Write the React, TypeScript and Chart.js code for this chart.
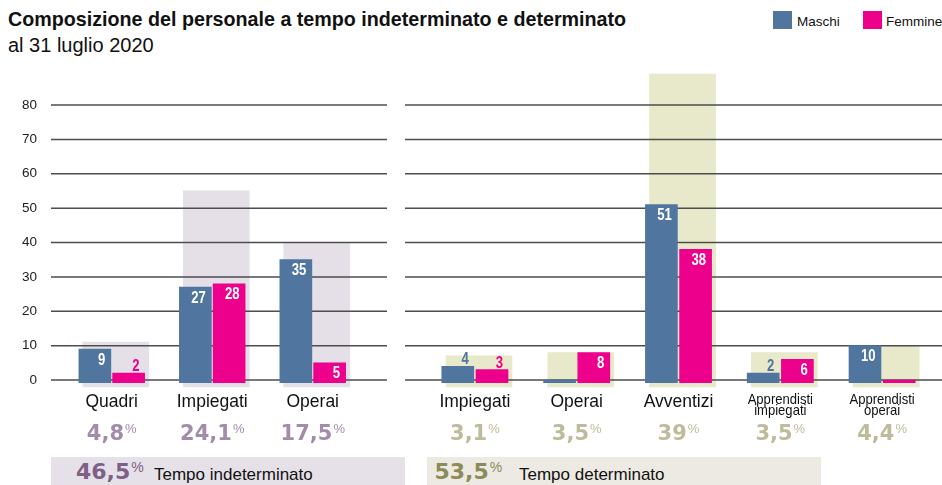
import React, { useEffect, useRef } from 'react';
import { Chart, registerables } from 'chart.js';

Chart.register(...registerables);

// ---------- data ----------
const LEFT_CATEGORIES: string[][] = [['Quadri'], ['Impiegati'], ['Operai']];
const LEFT_MASCHI = [9, 27, 35];
const LEFT_FEMMINE = [2, 28, 5];
const LEFT_PCT = [4.8, 24.1, 17.5];

const RIGHT_CATEGORIES: string[][] = [
  ['Impiegati'],
  ['Operai'],
  ['Avventizi'],
  ['Apprendisti', 'impiegati'],
  ['Apprendisti', 'operai'],
];
const RIGHT_MASCHI = [4, 0, 51, 2, 10];
const RIGHT_FEMMINE = [3, 8, 38, 6, 0];
const RIGHT_PCT = [3.1, 3.5, 39, 3.5, 4.4];

const Y_TICKS = [0, 10, 20, 30, 40, 50, 60, 70, 80];
const TOTAL_INDETERMINATO = 46.5;
const TOTAL_DETERMINATO = 53.5;
const SERIES_NAMES = ['Maschi', 'Femmine'];

// ---------- styles ----------
const MASCHI_COLOR = '#50759F';
const FEMMINE_COLOR = '#EC008C';
const BAR_BASE = -0.8;
const BG_BASE = -2;
const BG_SHIFT = 0.04;
const PAIR_OFFSET = 0.168;
const SANS = '"Liberation Sans", Arial, sans-serif';
const HEAVY = '"DejaVu Sans", sans-serif';

const fmt = (v: number) => String(v).replace('.', ',');

function narrowText(ctx: CanvasRenderingContext2D, text: string, x: number, y: number, align: CanvasTextAlign, sx: number) {
  ctx.save();
  ctx.translate(x, y);
  ctx.scale(sx, 1);
  ctx.textAlign = align;
  ctx.fillText(text, 0, 0);
  ctx.restore();
}

type PanelCfg = {
  labels: string[][];
  maschi: number[];
  femmine: number[];
  pct: number[];
  gridFrom: number;
  gridTo: number;
  yTicks: boolean;
  bgColor: string;
  pctColor: string;
  padding: { left: number; right: number; top: number; bottom: number };
};

function buildChart(canvas: HTMLCanvasElement, cfg: PanelCfg) {
  const n = cfg.labels.length;
  const sums = cfg.maschi.map((m, i) => m + cfg.femmine[i]);
  const series = [cfg.maschi, cfg.femmine];
  const colors = [MASCHI_COLOR, FEMMINE_COLOR];

  const plugin = {
    id: 'panelDecor',
    afterDatasetDraw(chart: any, args: any) {
      if (args.index !== 2) return;
      const ctx: CanvasRenderingContext2D = chart.ctx;
      const y = chart.scales.y;
      ctx.save();
      ctx.strokeStyle = '#4d4d4d';
      ctx.lineWidth = 1.5;
      for (const t of Y_TICKS) {
        const py = y.getPixelForValue(t);
        ctx.beginPath();
        ctx.moveTo(cfg.gridFrom, py);
        ctx.lineTo(cfg.gridTo, py);
        ctx.stroke();
      }
      ctx.restore();
    },
    afterDatasetsDraw(chart: any) {
      const ctx: CanvasRenderingContext2D = chart.ctx;
      ctx.save();
      ctx.font = `bold 16px ${SANS}`;
      ctx.textBaseline = 'alphabetic';
      for (let d = 0; d < 2; d++) {
        const meta = chart.getDatasetMeta(d);
        series[d].forEach((v, i) => {
          if (!v) return;
          const bar = meta.data[i];
          const right = bar.x + bar.width / 2;
          if (v >= 5) {
            ctx.fillStyle = '#ffffff';
            narrowText(ctx, String(v), right - 5.5, bar.y + 15.5, 'right', 0.82);
          } else {
            ctx.fillStyle = colors[d];
            narrowText(ctx, String(v), right - 5, bar.y - 2, 'right', 0.82);
          }
        });
      }
      ctx.restore();
    },
    afterDraw(chart: any) {
      const ctx: CanvasRenderingContext2D = chart.ctx;
      const xs = chart.scales.x;
      const y = chart.scales.y;
      ctx.save();
      ctx.textBaseline = 'alphabetic';
      if (cfg.yTicks) {
        ctx.fillStyle = '#222';
        ctx.font = `13.5px ${SANS}`;
        ctx.textAlign = 'right';
        ctx.textBaseline = 'middle';
        for (const t of Y_TICKS) ctx.fillText(String(t), 37, y.getPixelForValue(t));
        ctx.textBaseline = 'alphabetic';
      }
      cfg.labels.forEach((lines, i) => {
        const cx = xs.getPixelForValue(i);
        ctx.fillStyle = '#111';
        if (lines.length === 1) {
          ctx.font = `17.5px ${SANS}`;
          ctx.textAlign = 'center';
          ctx.fillText(lines[0], cx, 407);
        } else {
          ctx.font = `15px ${SANS}`;
          narrowText(ctx, lines[0], cx, 404, 'center', 0.87);
          narrowText(ctx, lines[1], cx, 414.5, 'center', 0.87);
        }
        const t = fmt(cfg.pct[i]);
        ctx.font = `bold 21px ${HEAVY}`;
        const w1 = ctx.measureText(t).width;
        ctx.font = `13px ${SANS}`;
        const w2 = ctx.measureText('%').width;
        const x0 = cx - (w1 + 1 + w2) / 2;
        ctx.fillStyle = cfg.pctColor;
        ctx.textAlign = 'left';
        ctx.font = `bold 21px ${HEAVY}`;
        ctx.fillText(t, x0, 440);
        ctx.font = `13px ${SANS}`;
        ctx.fillText('%', x0 + w1 + 1, 433);
      });
      ctx.restore();
    },
  };

  return new Chart(canvas, {
    type: 'bar',
    data: {
      labels: cfg.labels as any,
      datasets: [
        {
          label: SERIES_NAMES[0],
          data: cfg.maschi.map((v, i) => ({ x: i - PAIR_OFFSET, y: [BAR_BASE, v] })) as any,
          backgroundColor: MASCHI_COLOR,
          order: 1,
          grouped: false,
          barThickness: 32,
        },
        {
          label: SERIES_NAMES[1],
          data: cfg.femmine.map((v, i) => ({ x: i + PAIR_OFFSET, y: [BAR_BASE, v] })) as any,
          backgroundColor: FEMMINE_COLOR,
          order: 1,
          grouped: false,
          barThickness: 32,
        },
        {
          label: 'totale',
          data: sums.map((s, i) => ({ x: i + BG_SHIFT, y: [BG_BASE, s] })) as any,
          backgroundColor: cfg.bgColor,
          order: 2,
          grouped: false,
          barThickness: 66,
        },
      ],
    },
    options: {
      responsive: false,
      animation: false,
      layout: { padding: cfg.padding },
      plugins: { legend: { display: false }, tooltip: { enabled: false } },
      scales: {
        x: { type: 'linear', display: false, min: -0.5, max: n - 0.5, offset: false },
        y: { type: 'linear', display: false, min: -3, max: 90 },
      },
    } as any,
    plugins: [plugin],
  });
}

export default function App() {
  const leftRef = useRef<HTMLCanvasElement>(null);
  const rightRef = useRef<HTMLCanvasElement>(null);

  useEffect(() => {
    document.body.style.margin = '0';
    const k = 275 / 80;
    const top = 380 - 90 * k;
    const bottom = 485 - (380 + 3 * k);
    const c1 = buildChart(leftRef.current!, {
      labels: LEFT_CATEGORIES,
      maschi: LEFT_MASCHI,
      femmine: LEFT_FEMMINE,
      pct: LEFT_PCT,
      gridFrom: 51,
      gridTo: 387,
      yTicks: true,
      bgColor: '#E5E0E8',
      pctColor: '#A38CAA',
      padding: { left: 61.5, right: 37, top, bottom },
    });
    const c2 = buildChart(rightRef.current!, {
      labels: RIGHT_CATEGORIES,
      maschi: RIGHT_MASCHI,
      femmine: RIGHT_FEMMINE,
      pct: RIGHT_PCT,
      gridFrom: 5,
      gridTo: 542,
      yTicks: false,
      bgColor: '#E8E8CA',
      pctColor: '#BDBB99',
      padding: { left: 24, right: 9, top, bottom },
    });
    return () => {
      c1.destroy();
      c2.destroy();
    };
  }, []);

  const heavy: React.CSSProperties = { fontFamily: HEAVY, fontWeight: 'bold', fontSize: 22, lineHeight: 1 };
  const sup: React.CSSProperties = { fontFamily: SANS, fontWeight: 'normal', fontSize: 14, position: 'relative', top: -7, marginLeft: 1 };

  return (
    <div style={{ position: 'absolute', left: 0, top: 0, width: 942, height: 485, overflow: 'hidden', background: '#fff', fontFamily: SANS, color: '#111' }}>
      <div style={{ position: 'absolute', left: 8, top: 10, fontSize: 19.7, fontWeight: 'bold', lineHeight: 1, whiteSpace: 'nowrap' }}>
        Composizione del personale a tempo indeterminato e determinato
      </div>
      <div style={{ position: 'absolute', left: 8, top: 35, fontSize: 20, lineHeight: 1, whiteSpace: 'nowrap' }}>al 31 luglio 2020</div>

      <div style={{ position: 'absolute', left: 773, top: 11, width: 19, height: 18, background: MASCHI_COLOR }} />
      <div style={{ position: 'absolute', left: 797, top: 14.6, fontSize: 13.5, lineHeight: 1, whiteSpace: 'nowrap' }}>{SERIES_NAMES[0]}</div>
      <div style={{ position: 'absolute', left: 863, top: 11, width: 19, height: 18, background: FEMMINE_COLOR }} />
      <div style={{ position: 'absolute', left: 886, top: 14.6, fontSize: 13.5, lineHeight: 1, whiteSpace: 'nowrap' }}>{SERIES_NAMES[1]}</div>

      <div style={{ position: 'absolute', left: 51, top: 457, width: 354, height: 28, background: '#E6E1E8' }} />
      <div style={{ position: 'absolute', left: 76, top: 480 - 0.846 * 22, ...heavy, color: '#7D5F87', whiteSpace: 'nowrap' }}>
        {fmt(TOTAL_INDETERMINATO)}
        <span style={sup}>%</span>
      </div>
      <div style={{ position: 'absolute', left: 154, top: 480 - 0.8465 * 17, fontSize: 17, lineHeight: 1, whiteSpace: 'nowrap' }}>Tempo indeterminato</div>

      <div style={{ position: 'absolute', left: 427, top: 457, width: 394, height: 28, background: '#EDEAE3' }} />
      <div style={{ position: 'absolute', left: 434.5, top: 480 - 0.846 * 22, ...heavy, color: '#8C8B58', whiteSpace: 'nowrap' }}>
        {fmt(TOTAL_DETERMINATO)}
        <span style={sup}>%</span>
      </div>
      <div style={{ position: 'absolute', left: 519, top: 480 - 0.8465 * 17, fontSize: 17, lineHeight: 1, whiteSpace: 'nowrap' }}>Tempo determinato</div>

      <canvas ref={leftRef} width={400} height={485} style={{ position: 'absolute', left: 0, top: 0 }} />
      <canvas ref={rightRef} width={542} height={485} style={{ position: 'absolute', left: 400, top: 0 }} />
    </div>
  );
}
